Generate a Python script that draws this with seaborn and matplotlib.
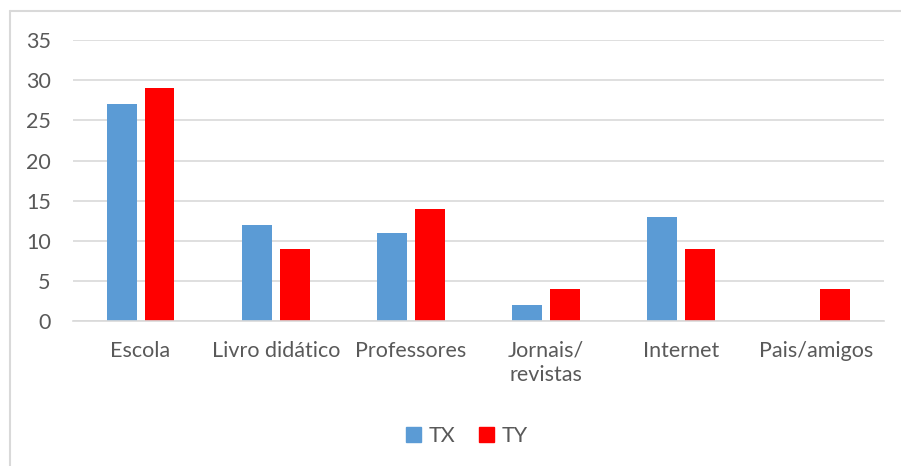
import pandas as pd
import matplotlib.pyplot as plt
import seaborn as sns
from matplotlib.lines import Line2D

categories = ['Escola', 'Livro didático', 'Professores', 'Jornais/\nrevistas', 'Internet', 'Pais/amigos']
tx_values = [27, 12, 11, 2, 13, 0]
ty_values = [29, 9, 14, 4, 9, 4]
series = ['TX', 'TY']
colors = {'TX': '#5B9BD5', 'TY': '#FF0000'}
yticks = [0, 5, 10, 15, 20, 25, 30, 35]


def main():
    df = pd.DataFrame({
        'categoria': categories * 2,
        'serie': ['TX'] * len(categories) + ['TY'] * len(categories),
        'valor': tx_values + ty_values,
    })

    sns.set_theme(style='white')
    plt.rcParams['font.family'] = ['Lato', 'DejaVu Sans']
    text_color = '#595959'
    fs = 15.5

    fig = plt.figure(figsize=(9.01, 4.66), dpi=100)
    ax = fig.add_axes([0.081, 0.311, 0.900, 0.603])

    sns.barplot(data=df, x='categoria', y='valor', hue='serie', order=categories,
                hue_order=series, palette=colors, width=0.56, gap=0.21,
                linewidth=0, saturation=1, ax=ax, legend=False)

    ax.set_ylim(0, 35)
    ax.set_yticks(yticks)
    ax.set_xlim(-0.5, len(categories) - 0.5)
    ax.yaxis.grid(True, color='#D9D9D9', linewidth=1.2)
    ax.set_axisbelow(True)
    for side in ['top', 'right', 'left']:
        ax.spines[side].set_visible(False)
    ax.spines['bottom'].set_color('#D9D9D9')
    ax.spines['bottom'].set_linewidth(1.2)
    ax.set_xlabel('')
    ax.set_ylabel('')
    ax.tick_params(axis='y', length=0, pad=16, labelsize=fs, labelcolor=text_color)
    ax.tick_params(axis='x', length=0, pad=14, labelsize=fs, labelcolor=text_color)
    for lbl in ax.get_xticklabels():
        lbl.set_verticalalignment('top')
        lbl.set_linespacing(1.3)

    handles = [plt.Rectangle((0, 0), 1, 1, color=colors[s]) for s in series]
    fig.legend(handles, series, loc='center', bbox_to_anchor=(467 / 901, 1 - 436 / 466),
               ncol=2, frameon=False, handlelength=0.7, handleheight=0.7,
               handletextpad=0.35, columnspacing=1.1, fontsize=fs, labelcolor=text_color)

    # chart frame (only top and left edges visible in the crop)
    fig.add_artist(Line2D([10 / 901, 10 / 901], [0, 1 - 11 / 466], transform=fig.transFigure,
                          color='#D9D9D9', linewidth=1.5))
    fig.add_artist(Line2D([10 / 901, 1], [1 - 11 / 466, 1 - 11 / 466], transform=fig.transFigure,
                          color='#D9D9D9', linewidth=1.5))

    fig.savefig('out.png', dpi=100, facecolor='white')
    plt.close(fig)


if __name__ == '__main__':
    main()
